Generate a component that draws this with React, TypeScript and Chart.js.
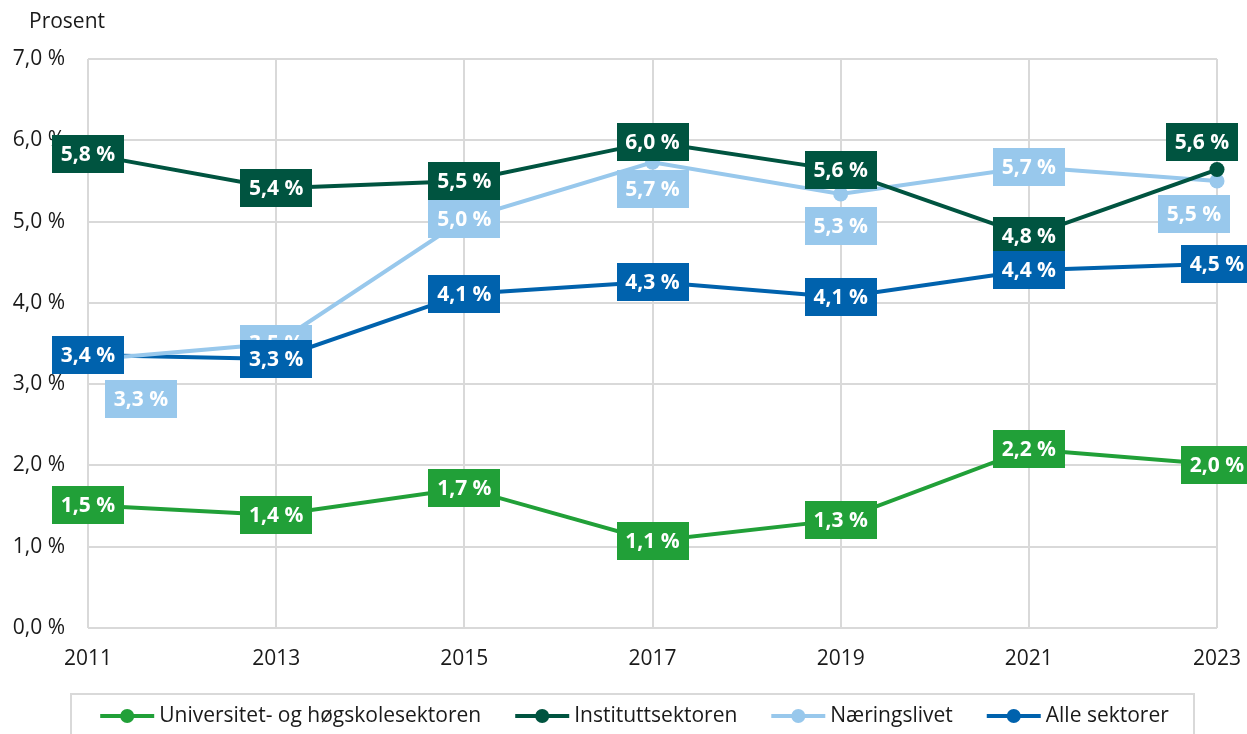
import React, { useEffect, useRef } from "react";
import { Chart, registerables } from "chart.js";

Chart.register(...registerables);

const years = ["2011", "2013", "2015", "2017", "2019", "2021", "2023"];
const seriesNames = [
  "Universitet- og høgskolesektoren",
  "Instituttsektoren",
  "Næringslivet",
  "Alle sektorer",
];
const universitet = [1.51, 1.39, 1.72, 1.07, 1.33, 2.2, 2.01];
const institutt = [5.83, 5.41, 5.5, 5.98, 5.63, 4.82, 5.64];
const naeringsliv = [3.3, 3.5, 5.03, 5.73, 5.34, 5.67, 5.5];
const alle = [3.36, 3.31, 4.11, 4.26, 4.07, 4.4, 4.48];
const yTicks = [0, 1, 2, 3, 4, 5, 6, 7];

const colors = ["#21a038", "#005440", "#98c8ec", "#0062ad"];

// label placement per series/point: [dx, dy] in px relative to point
const labelOffsets: number[][][] = [
  [[0, 0], [0, 0], [0, 0], [0, 0], [0, 0], [0, 0], [0, 0]],
  [[0, 0], [0, 0], [0, 0], [0, 0], [0, 0], [0, 0], [-15, -28]],
  [[53, 39], [0, 0], [0, 0], [0, 27], [0, 32], [0, 0], [-23, 33]],
  [[0, 0], [0, 0], [0, 0], [0, 0], [0, 0], [0, 0], [0, 0]],
];

const FONT = "'Open Sans', 'Noto Sans', sans-serif";
const fmt = (v: number) => v.toFixed(1).replace(".", ",") + " %";

const labelPlugin = {
  id: "boxLabels",
  afterDatasetsDraw(chart: any) {
    const ctx = chart.ctx;
    ctx.save();
    ctx.font = `bold 21px ${FONT}`;
    ctx.textAlign = "center";
    ctx.textBaseline = "middle";
    chart.data.datasets.forEach((ds: any, i: number) => {
      const meta = chart.getDatasetMeta(i);
      meta.data.forEach((pt: any, j: number) => {
        const txt = fmt(ds.data[j]);
        const [dx, dy] = labelOffsets[i][j];
        const cx = pt.x + dx;
        const cy = pt.y + dy;
        const w = 72;
        const h = 38;
        ctx.fillStyle = colors[i];
        ctx.fillRect(Math.round(cx - w / 2), Math.round(cy - h / 2), w, h);
        ctx.fillStyle = "#ffffff";
        ctx.fillText(txt, cx, cy + 1);
      });
    });
    ctx.restore();
  },
};

const extrasPlugin = {
  id: "extras",
  afterDraw(chart: any) {
    const ctx = chart.ctx;
    ctx.save();
    ctx.font = `21px ${FONT}`;
    ctx.fillStyle = "#1a1a1a";
    ctx.textAlign = "left";
    ctx.textBaseline = "middle";
    ctx.fillText("Prosent", 29, 22);
    // legend box
    ctx.strokeStyle = "#d9d9d9";
    ctx.lineWidth = 2;
    ctx.strokeRect(71, 694, 1194 - 71, 60);
    const lineW = 54;
    const gapText = 5;
    const gapItem = 34;
    const widths = seriesNames.map((n) => lineW + gapText + ctx.measureText(n).width);
    const total = widths.reduce((a, b) => a + b, 0) + gapItem * (seriesNames.length - 1);
    let x = (71 + 1194) / 2 - total / 2 + 2;
    const y = 716;
    seriesNames.forEach((n, i) => {
      ctx.strokeStyle = colors[i];
      ctx.lineWidth = 4;
      ctx.beginPath();
      ctx.moveTo(x, y);
      ctx.lineTo(x + lineW, y);
      ctx.stroke();
      ctx.fillStyle = colors[i];
      ctx.beginPath();
      ctx.arc(x + lineW / 2, y, 7, 0, Math.PI * 2);
      ctx.fill();
      ctx.fillStyle = "#1a1a1a";
      ctx.fillText(n, x + lineW + gapText, y);
      x += widths[i] + gapItem;
    });
    ctx.restore();
  },
};

export default function App() {
  const ref = useRef<HTMLCanvasElement | null>(null);
  useEffect(() => {
    if (!ref.current) return;
    const series = [universitet, institutt, naeringsliv, alle];
    const chart = new Chart(ref.current, {
      type: "line",
      data: {
        labels: years,
        datasets: series.map((d, i) => ({
          label: seriesNames[i],
          data: d,
          borderColor: colors[i],
          backgroundColor: colors[i],
          borderWidth: 4,
          pointRadius: 7.5,
          pointHoverRadius: 7.5,
          pointBorderWidth: 0,
          tension: 0,
          clip: false as any,
        })),
      },
      options: {
        animation: false,
        responsive: false,
        devicePixelRatio: 1,
        layout: { padding: { top: 59, right: 30, left: 0, bottom: 0 } },
        plugins: { legend: { display: false }, tooltip: { enabled: false } },
        scales: {
          x: {
            type: "category",
            offset: false,
            grid: { color: "#d9d9d9", lineWidth: 2, drawTicks: false, offset: false },
            border: { display: false },
            ticks: { color: "#1a1a1a", font: { family: FONT, size: 21 }, padding: 18, maxRotation: 0, autoSkip: false },
            afterFit: (s: any) => {
              s.height = 734 - 628;
              s.paddingLeft = 0;
              s.paddingRight = 0;
            },
          },
          y: {
            min: 0,
            max: 7,
            afterBuildTicks: (s: any) => { s.ticks = yTicks.map((v) => ({ value: v })); },
            grid: { color: "#d9d9d9", lineWidth: 2, drawTicks: false },
            border: { display: false },
            ticks: {
              color: "#1a1a1a",
              font: { family: FONT, size: 21 },
              padding: 23,
              callback: (v: any) => fmt(Number(v)),
            },
            afterFit: (s: any) => {
              s.width = 88;
              s.paddingTop = 0;
              s.paddingBottom = 0;
            },
          },
        },
      },
      plugins: [labelPlugin, extrasPlugin],
    });
    return () => chart.destroy();
  }, []);
  return (
    <div style={{ position: "absolute", left: 0, top: 0, width: 1247, height: 734, background: "#fff" }}>
      <canvas ref={ref} width={1247} height={734} />
    </div>
  );
}
